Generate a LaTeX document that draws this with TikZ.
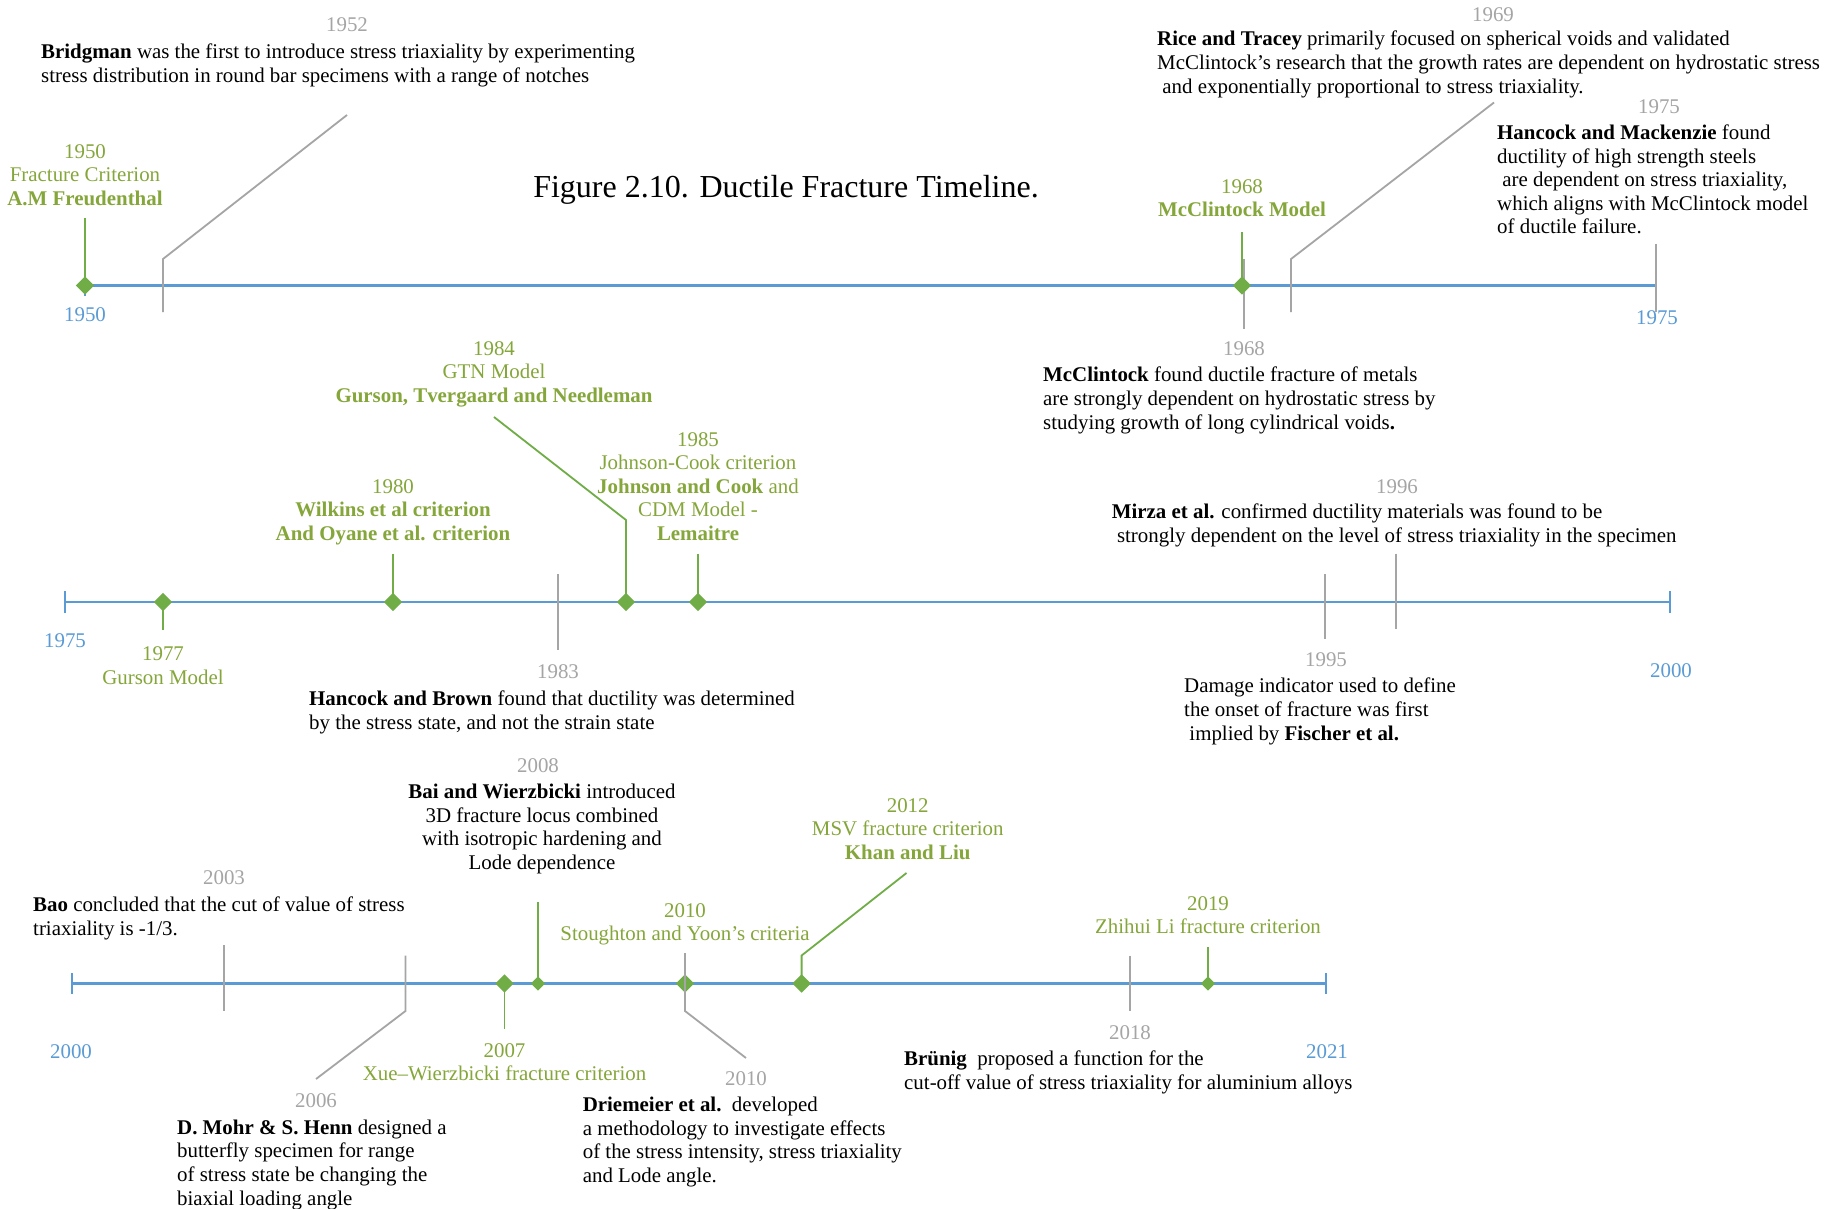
\documentclass[tikz,border=0pt]{standalone}
\usepackage{fontspec}
\setmainfont{Liberation Serif}
\usetikzlibrary{shapes.geometric,backgrounds}
\definecolor{axblue}{RGB}{91,155,213}
\definecolor{lgray}{RGB}{165,165,165}
\definecolor{dgreen}{RGB}{112,173,71}
\definecolor{olive}{RGB}{133,166,58}
\tikzset{
  axline/.style={draw=axblue, line width=2.4pt},
  axtick/.style={draw=axblue, line width=2pt},
  gline/.style={draw=lgray, line width=1.8pt},
  grline/.style={draw=dgreen, line width=1.8pt},
  dia/.style={diamond, fill=dgreen, inner sep=0pt, minimum size=18.5pt},
  sdia/.style={diamond, fill=dgreen, inner sep=0pt, minimum size=14.5pt},
  txt/.style={inner sep=0pt, yshift=-2pt, font=\fontsize{20.9}{23.6}\selectfont},
  blk/.style={txt, anchor=north west, align=left, text=black},
  blkc/.style={txt, anchor=north, align=center, text=black},
  grn/.style={txt, anchor=north, align=center, text=olive},
  gry/.style={txt, anchor=center, text=lgray},
  blu/.style={txt, anchor=center, text=axblue}
}
\begin{document}
\begin{tikzpicture}[x=1pt,y=-1pt]
\useasboundingbox (0,0) rectangle (1827,1208);

% title
\node[txt, yshift=-1.5pt, font=\fontsize{32}{38}\selectfont] (title) at (786,186) {Figure 2.10. Ductile Fracture Timeline.};

% ---------------- Row 1 ----------------
\coordinate (a1s) at (85,285.5);
\coordinate (a1e) at (1656,285.5);
\coordinate (t1s) at (85,276);
\coordinate (t1sb) at (85,296);
\coordinate (t1e) at (1656,274);
\coordinate (t1eb) at (1656,297);

\node[dia] (d1950) at (85,285.5) {};
\coordinate (s1950) at (85,218);
\node[grn] (l1950) at (85,142) {1950\\Fracture Criterion\\\textbf{A.M Freudenthal}};
\node[blu] (y1950) at (85,313) {1950};

\coordinate (p1952a) at (163,312);
\coordinate (p1952b) at (163,259);
\coordinate (p1952c) at (347,115);
\node[gry] (y1952) at (347,23) {1952};
\node[blk] (t1952) at (41,42) {\textbf{Bridgman} was the first to introduce stress triaxiality by experimenting\\stress distribution in round bar specimens with a range of notches};

\node[dia] (d1968) at (1242,285.5) {};
\coordinate (s1968) at (1242,232);
\node[grn] (l1968) at (1242,177) {1968\\\textbf{McClintock Model}};
\coordinate (p1968a) at (1244,259);
\coordinate (p1968b) at (1244,329);
\node[gry] (y1968) at (1244,347) {1968};
\node[blk] (t1968) at (1043,365) {\textbf{McClintock} found ductile fracture of metals\\are strongly dependent on hydrostatic stress by\\studying growth of long cylindrical voids\textbf{.}};

\coordinate (p1969a) at (1291,312);
\coordinate (p1969b) at (1291,259);
\coordinate (p1969c) at (1494,102.5);
\node[gry] (y1969) at (1493,13) {1969};
\node[blk] (t1969) at (1157,29) {\textbf{Rice and Tracey} primarily focused on spherical voids and validated\\McClintock’s research that the growth rates are dependent on hydrostatic stress\\\hspace*{0.25em}and exponentially proportional to stress triaxiality.};

\coordinate (p1975a) at (1656,243.5);
\coordinate (p1975b) at (1656,312);
\node[gry] (y1975a) at (1659,105) {1975};
\node[blk] (t1975) at (1497,122.5) {\textbf{Hancock and Mackenzie} found\\ductility of high strength steels\\\hspace*{0.25em}are dependent on stress triaxiality,\\which aligns with McClintock model\\of ductile failure.};
\node[blu] (y1975b) at (1657,316) {1975};

% ---------------- Row 2 ----------------
\coordinate (a2s) at (65,602);
\coordinate (a2e) at (1670,602);
\coordinate (t2s) at (65,591);
\coordinate (t2sb) at (65,613);
\coordinate (t2e) at (1670,591);
\coordinate (t2eb) at (1670,613);
\node[blu] (y1975c) at (65,638.5) {1975};
\node[blu] (y2000a) at (1671,669) {2000};

\node[dia] (d1977) at (163,602) {};
\coordinate (s1977) at (163,630);
\node[grn] (l1977) at (163,644.5) {1977\\Gurson Model};

\node[dia] (d1980) at (393,602) {};
\coordinate (s1980) at (393,553.5);
\node[grn] (l1980) at (393,477) {1980\\\textbf{Wilkins et al criterion}\\\textbf{And Oyane et al. criterion}};

\coordinate (p1983a) at (558,574);
\coordinate (p1983b) at (558,650);
\node[gry] (y1983) at (558,670) {1983};
\node[blk] (t1983) at (309,689) {\textbf{Hancock and Brown} found that ductility was determined\\by the stress state, and not the strain state};

\node[dia] (d1984) at (626,602) {};
\coordinate (s1984a) at (626,520);
\coordinate (s1984b) at (494,417);
\node[grn] (l1984) at (494,339) {1984\\GTN Model\\\textbf{Gurson, Tvergaard and Needleman}};

\node[dia] (d1985) at (698,602) {};
\coordinate (s1985) at (698,553.5);
\node[grn] (l1985) at (698,430) {1985\\Johnson-Cook criterion\\\textbf{Johnson and Cook} and\\CDM Model -\\\textbf{Lemaitre}};

\coordinate (p1995a) at (1325,574);
\coordinate (p1995b) at (1325,638.5);
\node[gry] (y1995) at (1326,658) {1995};
\node[blk] (t1995) at (1184,676) {Damage indicator used to define\\the onset of fracture was first\\\hspace*{0.25em}implied by \textbf{Fischer et al.}};

\coordinate (p1996a) at (1396,553.5);
\coordinate (p1996b) at (1396,629);
\node[gry] (y1996) at (1397,485) {1996};
\node[blk] (t1996) at (1111.6,502) {\textbf{Mirza et al.} confirmed ductility materials was found to be\\\hspace*{0.25em}strongly dependent on the level of stress triaxiality in the specimen};

% ---------------- Row 3 ----------------
\coordinate (a3s) at (72,983.5);
\coordinate (a3e) at (1326,983.5);
\coordinate (t3s) at (72,973);
\coordinate (t3sb) at (72,994);
\coordinate (t3e) at (1326,973);
\coordinate (t3eb) at (1326,994);
\node[blu] (y2000b) at (71,1050) {2000};
\node[blu] (y2021) at (1327,1050) {2021};

\coordinate (p2003a) at (224,945);
\coordinate (p2003b) at (224,1011);
\node[gry] (y2003) at (224,876) {2003};
\node[blk] (t2003) at (33,895) {\textbf{Bao} concluded that the cut of value of stress\\triaxiality is -1/3.};

\coordinate (p2006a) at (405.5,955.5);
\coordinate (p2006b) at (405.5,1011);
\coordinate (p2006c) at (316,1079);
\node[gry] (y2006) at (316,1099) {2006};
\node[blk] (t2006) at (177,1117.6) {\textbf{D. Mohr \& S. Henn} designed a\\butterfly specimen for range\\of stress state be changing the\\biaxial loading angle};

\node[dia] (d2007) at (504.5,983.5) {};
\coordinate (s2007) at (504.5,1029);
\node[grn] (l2007) at (504.5,1041) {2007\\Xue–Wierzbicki fracture criterion};

\node[sdia] (d2008) at (538,983.5) {};
\coordinate (s2008) at (538,902);
\node[gry] (y2008) at (538,764) {2008};
\node[blkc] (t2008) at (542,782) {\textbf{Bai and Wierzbicki} introduced\\3D fracture locus combined\\with isotropic hardening and\\Lode dependence};

\node[dia] (d2010) at (685,983.5) {};
\coordinate (p2010a) at (685,953);
\coordinate (p2010b) at (685,1011);
\coordinate (p2010c) at (746,1058);
\node[gry] (y2010) at (746,1077) {2010};
\node[grn] (l2010) at (685,901) {2010\\Stoughton and Yoon’s criteria};
\node[blk] (t2010) at (582.6,1095) {\textbf{Driemeier et al.}\ \ developed\\a methodology to investigate effects\\of the stress intensity, stress triaxiality\\and Lode angle.};

\node[dia] (d2012) at (801.6,983.5) {};
\coordinate (s2012a) at (801.6,955.5);
\coordinate (s2012b) at (906.5,873);
\node[grn] (l2012) at (907.7,796) {2012\\MSV fracture criterion\\\textbf{Khan and Liu}};

\coordinate (p2018a) at (1130,955.5);
\coordinate (p2018b) at (1130,1011);
\node[gry] (y2018) at (1130,1031) {2018};
\node[blk] (t2018) at (904,1049) {\textbf{Brünig}\ \ proposed a function for the\\cut-off value of stress triaxiality for aluminium alloys};

\node[sdia] (d2019) at (1208,983.5) {};
\coordinate (s2019) at (1208,947);
\node[grn] (l2019) at (1208,894) {2019\\Zhihui Li fracture criterion};

% ---------------- lines behind ----------------
\begin{pgfonlayer}{background}
\fill[white] (0,0) rectangle (1827,1208);
% axes
\draw[axline] (a1s) -- (a1e);
\draw[axtick] (t1s) -- (t1sb);
\draw[axtick] (t1e) -- (t1eb);
\draw[axline] (a2s) -- (a2e);
\draw[axtick] (t2s) -- (t2sb);
\draw[axtick] (t2e) -- (t2eb);
\draw[axline] (a3s) -- (a3e);
\draw[axtick] (t3s) -- (t3sb);
\draw[axtick] (t3e) -- (t3eb);
% gray leaders
\draw[gline] (p1952a) -- (p1952b) -- (p1952c);
\draw[gline] (p1968a) -- (p1968b);
\draw[gline] (p1969a) -- (p1969b) -- (p1969c);
\draw[gline] (p1975a) -- (p1975b);
\draw[gline] (p1983a) -- (p1983b);
\draw[gline] (p1995a) -- (p1995b);
\draw[gline] (p1996a) -- (p1996b);
\draw[gline] (p2003a) -- (p2003b);
\draw[gline] (p2006a) -- (p2006b) -- (p2006c);
\draw[gline] (p2018a) -- (p2018b);
% green stems
\draw[grline] (s1950) -- (d1950.center);
\draw[grline] (s1968) -- (d1968.center);
\draw[grline] (s1977) -- (d1977.center);
\draw[grline] (s1980) -- (d1980.center);
\draw[grline] (s1984b) -- (s1984a) -- (d1984.center);
\draw[grline] (s1985) -- (d1985.center);
\draw[grline] (s2007) -- (d2007.center);
\draw[grline] (s2008) -- (d2008.center);
\draw[grline] (s2012b) -- (s2012a) -- (d2012.center);
\draw[grline] (s2019) -- (d2019.center);
\end{pgfonlayer}
% gray leader through 2010 diamond, drawn over it
\draw[gline] (p2010a) -- (p2010b) -- (p2010c);
\end{tikzpicture}
\end{document}
